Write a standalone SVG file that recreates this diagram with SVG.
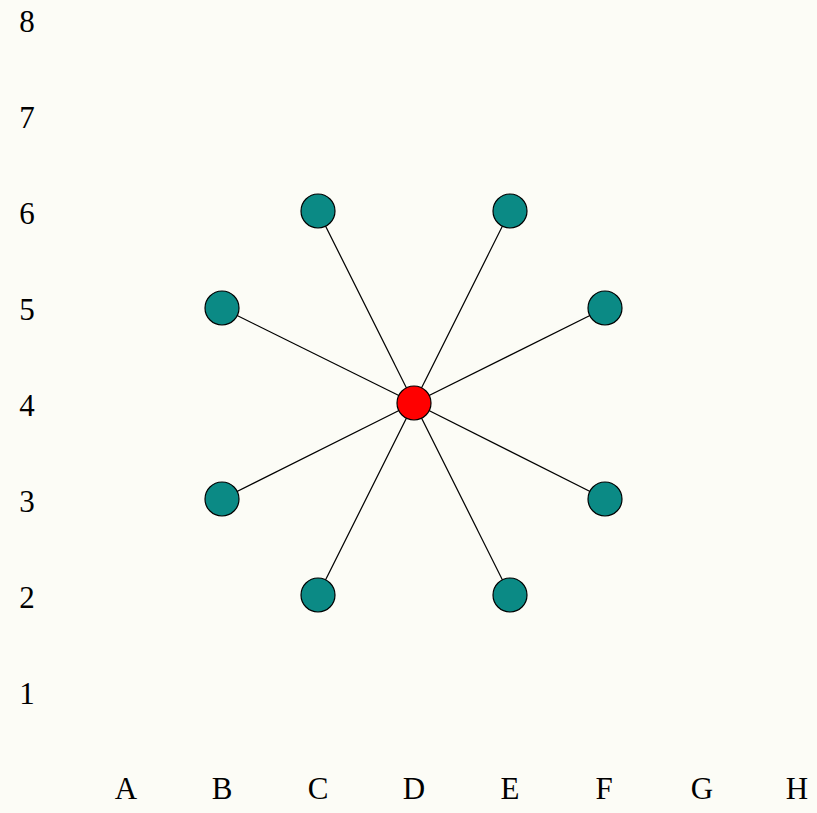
<svg xmlns="http://www.w3.org/2000/svg" width="817" height="813" viewBox="0 0 817 813">
<style>
.lbl{font-family:"Liberation Serif","DejaVu Serif",serif;font-size:31px;fill:#000;text-anchor:middle}
.edge{stroke:#000;stroke-width:1.2;fill:none}
.leaf{fill:#0b8a85;stroke:#000;stroke-width:1.2}
.hub{fill:#ff0000;stroke:#000;stroke-width:1.2}
</style>
<rect width="817" height="813" fill="#fcfcf6"/>
<g id="axis-labels">
<text class="lbl" x="27" y="32">8</text>
<text class="lbl" x="27" y="128">7</text>
<text class="lbl" x="27" y="224">6</text>
<text class="lbl" x="27" y="320">5</text>
<text class="lbl" x="27" y="416">4</text>
<text class="lbl" x="27" y="512">3</text>
<text class="lbl" x="27" y="608">2</text>
<text class="lbl" x="27" y="704">1</text>
<text class="lbl" x="126" y="799">A</text>
<text class="lbl" x="222" y="799">B</text>
<text class="lbl" x="318" y="799">C</text>
<text class="lbl" x="414" y="799">D</text>
<text class="lbl" x="510" y="799">E</text>
<text class="lbl" x="604" y="799">F</text>
<text class="lbl" x="702" y="799">G</text>
<text class="lbl" x="797" y="799">H</text>
</g>
<g id="connectors">
<line class="edge" x1="414" y1="403" x2="318" y2="211"/>
<line class="edge" x1="414" y1="403" x2="510" y2="211"/>
<line class="edge" x1="414" y1="403" x2="222" y2="308"/>
<line class="edge" x1="414" y1="403" x2="605" y2="308"/>
<line class="edge" x1="414" y1="403" x2="222" y2="499"/>
<line class="edge" x1="414" y1="403" x2="605" y2="499"/>
<line class="edge" x1="414" y1="403" x2="318" y2="595"/>
<line class="edge" x1="414" y1="403" x2="510" y2="595"/>
</g>
<g id="C6"><circle class="leaf" cx="318" cy="211" r="17"/></g>
<g id="E6"><circle class="leaf" cx="510" cy="211" r="17"/></g>
<g id="B5"><circle class="leaf" cx="222" cy="308" r="17"/></g>
<g id="F5"><circle class="leaf" cx="605" cy="308" r="17"/></g>
<g id="B3"><circle class="leaf" cx="222" cy="499" r="17"/></g>
<g id="F3"><circle class="leaf" cx="605" cy="499" r="17"/></g>
<g id="C2"><circle class="leaf" cx="318" cy="595" r="17"/></g>
<g id="E2"><circle class="leaf" cx="510" cy="595" r="17"/></g>
<g id="D4"><circle class="hub" cx="414" cy="403" r="17"/></g>
</svg>
